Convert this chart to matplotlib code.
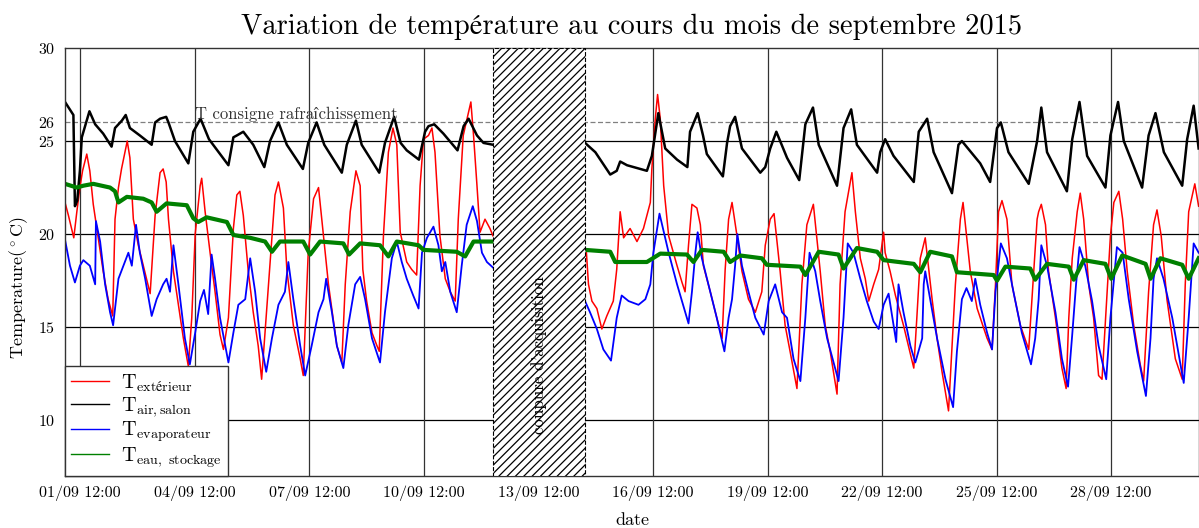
import numpy as np
import pandas as pd
import matplotlib
matplotlib.use("Agg")
import matplotlib.pyplot as plt
import matplotlib.dates as mdates

plt.rcParams['font.family'] = ['cmr10', 'STIXGeneral', 'DejaVu Serif']
plt.rcParams['mathtext.fontset'] = 'cm'
plt.rcParams['axes.formatter.use_mathtext'] = True
plt.rcParams['hatch.linewidth'] = 0.9

# ---- data: times are day-of-month (fractional), September 2015 ----
ext_t = [1.10, 1.19, 1.33, 1.41, 1.49, 1.56, 1.67, 1.75, 1.84, 1.97, 2.10, 2.23, 2.35, 2.41, 2.50, 2.58,
         2.73, 2.80, 2.89, 3.02, 3.15, 3.33, 3.46, 3.59, 3.67, 3.75, 3.81, 3.94, 4.07, 4.20, 4.33, 4.42,
         4.51, 4.64, 4.68, 4.77, 4.90, 5.03, 5.16, 5.25, 5.38, 5.51, 5.60, 5.68, 5.77, 5.90, 6.03, 6.16,
         6.25, 6.43, 6.52, 6.60, 6.69, 6.82, 6.91, 7.08, 7.26, 7.34, 7.47, 7.61, 7.74, 7.87, 8.00, 8.22,
         8.35, 8.44, 8.57, 8.72, 8.83, 8.90, 9.00, 9.14, 9.27, 9.33, 9.44, 9.57, 9.69, 9.79, 9.88, 10.05,
         10.18, 10.31, 10.40, 10.49, 10.62, 10.71, 10.79, 10.92, 11.06, 11.19, 11.32, 11.40, 11.53, 11.73,
         11.80, 11.89, 11.97, 12.10, 12.23, 12.31,
         14.75, 14.81, 14.90, 15.03, 15.16, 15.29, 15.46, 15.55, 15.64, 15.73, 15.90, 16.08, 16.25, 16.43,
         16.47, 16.56, 16.62, 16.69, 16.78, 16.91, 17.13, 17.26, 17.34, 17.43, 17.52, 17.65, 17.74, 17.82,
         18.00, 18.17, 18.31, 18.39, 18.48, 18.57, 18.70, 18.83, 19.00, 19.18, 19.35, 19.44, 19.57, 19.67,
         19.83, 19.96, 20.09, 20.27, 20.40, 20.53, 20.70, 20.88, 21.01, 21.14, 21.32, 21.40, 21.53, 21.71,
         21.80, 21.93, 22.06, 22.15, 22.28, 22.41, 22.54, 22.58, 22.71, 22.85, 23.06, 23.33, 23.41, 23.50,
         23.63, 23.81, 23.94, 24.07, 24.24, 24.42, 24.55, 24.62, 24.81, 24.99, 25.25, 25.38, 25.47, 25.55,
         25.64, 25.77, 25.90, 26.12, 26.34, 26.56, 26.60, 26.67, 26.78, 26.86, 27.04, 27.21, 27.32, 27.39,
         27.48, 27.61, 27.69, 27.78, 27.91, 28.04, 28.17, 28.26, 28.48, 28.57, 28.70, 28.80, 28.92, 29.09,
         29.26, 29.35, 29.48, 29.61, 29.70, 29.81, 29.96, 30.18, 30.36, 30.44, 30.53, 30.69, 30.79]
ext_v = [21.7, 21.0, 19.8, 21.2, 22.5, 23.4, 24.3, 23.4, 21.6, 19.8, 18.0, 16.5, 15.6, 20.8, 22.5, 23.5,
         25.0, 24.1, 20.8, 19.4, 18.3, 16.8, 21.0, 23.3, 23.5, 22.8, 20.8, 18.0, 16.2, 14.4, 12.9, 15.5,
         20.0, 22.6, 23.0, 21.2, 19.0, 16.9, 14.6, 13.8, 15.5, 20.3, 22.1, 22.3, 21.0, 18.0, 15.8, 14.0,
         12.2, 17.3, 19.9, 22.1, 22.8, 21.4, 18.1, 15.1, 13.3, 12.4, 19.0, 21.9, 22.5, 19.9, 17.3, 14.0,
         13.1, 17.3, 21.2, 23.4, 22.6, 18.1, 16.4, 14.7, 14.0, 13.7, 19.9, 24.4, 25.7, 24.8, 20.1, 18.5,
         18.1, 17.8, 22.6, 25.1, 25.3, 25.7, 24.4, 19.9, 17.6, 16.9, 16.4, 20.8, 25.3, 27.1,
         25.3, 22.6, 20.1, 20.8, 20.3, 19.9,
         19.2, 17.3, 16.4, 16.0, 14.9, 15.6, 16.4, 18.1, 21.2, 19.8, 20.3, 19.6, 20.3, 21.7,
         23.5, 26.2, 27.5, 26.2, 22.6, 19.9, 18.3, 17.4, 16.9, 19.4, 21.6, 21.4, 20.5, 18.3,
         16.9, 15.5, 14.4, 18.1, 20.8, 21.7, 19.9, 18.0, 16.5, 15.8, 16.9, 19.4, 20.8, 21.1,
         18.0, 15.1, 13.7, 11.7, 17.3, 20.5, 21.6, 18.0, 15.1, 13.7, 11.4, 17.3, 21.2, 23.3,
         21.2, 18.7, 17.6, 16.4, 17.3, 18.1, 20.1, 19.0, 18.0, 16.7, 15.1, 12.8, 15.5, 18.7,
         19.8, 16.5, 14.4, 12.6, 10.5, 17.3, 20.8, 21.7, 18.0, 16.0, 14.4, 13.8, 17.3, 21.2,
         21.8, 20.8, 17.3, 15.1, 13.8, 20.8, 21.2, 21.6, 20.5, 18.0, 15.5, 12.8, 11.7, 15.5,
         18.7, 21.2, 22.2, 20.8, 17.3, 15.5, 12.4, 12.2, 19.9, 21.7, 22.3, 20.8, 18.0, 15.1,
         13.0, 12.1, 16.9, 20.5, 21.3, 19.9, 16.5, 13.3, 12.2, 17.3, 21.2, 22.7, 21.5]

air_t = [1.10, 1.32, 1.36, 1.42, 1.49, 1.54, 1.74, 1.89, 2.10, 2.32, 2.41, 2.50, 2.59, 2.69, 2.80, 3.06,
         3.37, 3.46, 3.59, 3.75, 3.81, 3.98, 4.33, 4.46, 4.65, 4.87, 5.38, 5.51, 5.60, 5.77, 6.03, 6.32,
         6.47, 6.69, 6.91, 7.33, 7.47, 7.69, 7.89, 8.35, 8.48, 8.72, 8.87, 9.33, 9.48, 9.72, 9.89, 10.05,
         10.37, 10.53, 10.62, 10.77, 11.01, 11.38, 11.54, 11.67, 11.89, 12.06, 12.31,
         14.72, 14.99, 15.38, 15.55, 15.64, 15.82, 16.34, 16.47, 16.64, 16.82, 17.13, 17.40, 17.47, 17.67,
         17.81, 17.91, 18.33, 18.44, 18.52, 18.65, 18.83, 19.31, 19.44, 19.57, 19.73, 20.01, 20.33, 20.49,
         20.69, 20.84, 21.32, 21.49, 21.69, 21.84, 22.37, 22.45, 22.58, 22.80, 23.33, 23.46, 23.68, 23.85,
         24.33, 24.50, 24.59, 25.07, 25.33, 25.51, 25.61, 25.81, 26.34, 26.56, 26.67, 26.82, 27.34, 27.48,
         27.67, 27.87, 28.35, 28.48, 28.68, 28.83, 29.31, 29.48, 29.66, 29.88, 30.36, 30.49, 30.66, 30.79]
air_v = [27.1, 26.4, 21.5, 21.8, 23.4, 25.2, 26.6, 25.9, 25.4, 24.7, 25.7, 25.9, 26.1, 26.4, 25.7, 25.3,
         24.8, 26.0, 26.2, 26.3, 26.0, 25.0, 23.8, 25.5, 26.2, 25.1, 23.7, 25.2, 25.3, 25.5, 24.8, 23.6,
         25.0, 26.0, 24.8, 23.5, 24.9, 26.0, 24.8, 23.3, 24.8, 26.1, 24.8, 23.3, 24.9, 26.3, 24.9, 24.5,
         24.0, 25.5, 25.8, 25.9, 25.4, 24.5, 25.8, 26.2, 25.3, 24.9, 24.8,
         24.9, 24.4, 23.2, 23.4, 23.9, 23.7, 23.4, 24.2, 26.5, 24.6, 24.0, 23.6, 25.5, 26.5,
         25.3, 24.3, 23.1, 24.9, 25.8, 26.3, 24.6, 23.3, 23.6, 24.6, 25.5, 24.1, 22.9, 25.9,
         26.8, 24.8, 22.6, 25.7, 26.7, 24.8, 23.3, 24.4, 25.1, 24.2, 22.8, 25.5, 26.2, 24.4,
         22.2, 24.8, 25.0, 23.8, 22.8, 25.7, 26.0, 24.4, 22.7, 25.0, 26.8, 24.4, 22.3, 25.1,
         27.1, 24.2, 22.5, 25.3, 27.1, 25.0, 22.5, 25.3, 26.5, 24.4, 22.6, 25.1, 26.9, 24.6]

evap_t = [1.10, 1.23, 1.36, 1.49, 1.58, 1.75, 1.89, 1.91, 2.02, 2.15, 2.28, 2.36, 2.50, 2.63, 2.76, 2.85,
          2.96, 3.06, 3.20, 3.37, 3.50, 3.67, 3.76, 3.85, 3.94, 4.07, 4.24, 4.37, 4.51, 4.64, 4.74, 4.85,
          4.94, 5.03, 5.16, 5.38, 5.51, 5.64, 5.82, 5.95, 6.08, 6.21, 6.37, 6.52, 6.69, 6.86, 6.95, 7.08,
          7.26, 7.39, 7.56, 7.74, 7.87, 7.94, 8.09, 8.22, 8.39, 8.52, 8.70, 8.83, 8.96, 9.14, 9.35, 9.48,
          9.66, 9.79, 9.92, 10.05, 10.22, 10.36, 10.45, 10.58, 10.75, 10.88, 10.97, 11.06, 11.19, 11.36,
          11.49, 11.62, 11.78, 11.89, 12.02, 12.15, 12.31,
          14.72, 14.85, 15.03, 15.20, 15.40, 15.55, 15.68, 15.86, 16.12, 16.30, 16.43, 16.51, 16.67, 16.91,
          17.13, 17.43, 17.52, 17.61, 17.67, 17.78, 18.00, 18.17, 18.37, 18.48, 18.57, 18.65, 18.71, 18.83,
          19.00, 19.18, 19.40, 19.53, 19.70, 19.88, 20.01, 20.18, 20.36, 20.49, 20.60, 20.75, 20.88, 21.06,
          21.36, 21.49, 21.60, 21.75, 21.93, 22.10, 22.28, 22.41, 22.54, 22.67, 22.87, 22.93, 23.06, 23.24,
          23.37, 23.55, 23.59, 23.63, 23.76, 23.94, 24.16, 24.36, 24.46, 24.59, 24.71, 24.85, 24.94, 25.07,
          25.25, 25.38, 25.47, 25.61, 25.77, 25.94, 26.16, 26.40, 26.51, 26.60, 26.67, 26.82, 27.04, 27.21,
          27.37, 27.48, 27.58, 27.67, 27.82, 28.00, 28.17, 28.37, 28.48, 28.65, 28.80, 28.96, 29.18, 29.41,
          29.53, 29.61, 29.70, 29.87, 30.10, 30.40, 30.53, 30.66, 30.79]
evap_v = [19.7, 18.3, 17.4, 18.3, 18.6, 18.3, 17.3, 20.7, 19.6, 17.3, 15.8, 15.1, 17.6, 18.3, 19.0, 18.3,
          20.5, 19.0, 17.6, 15.6, 16.5, 17.3, 17.6, 16.9, 19.4, 17.3, 14.4, 13.0, 14.7, 16.4, 17.0, 15.7,
          18.9, 17.6, 15.5, 13.1, 14.7, 16.2, 16.5, 18.7, 16.9, 14.4, 12.6, 14.4, 16.2, 16.9, 18.5, 16.5,
          14.0, 12.4, 14.0, 15.8, 16.5, 17.6, 15.8, 14.0, 12.8, 15.1, 17.3, 17.7, 16.5, 14.4, 13.1, 15.8,
          18.7, 19.6, 18.5, 17.6, 16.7, 16.0, 19.0, 19.8, 20.4, 19.4, 18.0, 18.5, 16.9, 15.8,
          18.3, 20.5, 21.5, 20.7, 19.0, 18.5, 18.2,
          16.4, 15.8, 14.9, 13.8, 13.2, 15.5, 16.7, 16.4, 16.2, 16.5, 17.3, 19.0, 21.1, 19.0,
          17.3, 15.2, 16.9, 19.0, 20.1, 18.7, 16.9, 15.5, 13.7, 15.5, 16.5, 18.3, 20.0, 18.3,
          16.9, 15.5, 14.6, 16.4, 17.3, 15.8, 15.5, 13.3, 12.1, 15.5, 19.0, 18.0, 16.4, 14.4,
          12.1, 15.5, 19.5, 19.0, 17.6, 16.4, 15.3, 14.9, 16.2, 16.8, 14.2, 17.3, 15.8, 14.0,
          13.1, 14.4, 17.3, 18.0, 16.5, 14.4, 12.2, 10.7, 13.7, 16.5, 17.1, 16.4, 17.6, 16.2,
          14.7, 13.8, 16.9, 19.5, 18.7, 16.9, 14.7, 13.0, 14.4, 16.5, 19.4, 18.3, 15.8, 13.3,
          11.8, 14.6, 17.3, 19.3, 18.3, 16.4, 14.0, 12.2, 15.5, 19.3, 19.0, 16.5, 13.7, 11.3,
          14.4, 17.6, 18.7, 17.6, 15.5, 12.0, 15.5, 19.5, 19.0]

eau_t = [1.10, 1.41, 1.58, 1.84, 2.28, 2.41, 2.50, 2.72, 3.15, 3.37, 3.50, 3.76, 4.29, 4.46, 4.59, 4.81,
         5.34, 5.51, 5.95, 6.34, 6.52, 6.73, 7.34, 7.52, 7.78, 8.39, 8.54, 8.83, 9.35, 9.57, 9.79, 10.36,
         10.49, 11.36, 11.58, 11.80, 12.31,
         14.72, 15.38, 15.51, 16.34, 16.69, 17.39, 17.56, 17.78, 18.35, 18.52, 18.78, 19.35, 19.48, 20.36,
         20.49, 20.84, 21.36, 21.49, 21.84, 22.37, 22.54, 23.33, 23.50, 23.76, 24.33, 24.46, 25.42, 25.51,
         25.73, 26.38, 26.51, 26.82, 27.39, 27.52, 27.78, 28.35, 28.50, 28.79, 29.40, 29.53, 29.79, 30.36,
         30.53, 30.79]
eau_v = [22.7, 22.5, 22.6, 22.7, 22.5, 22.3, 21.7, 22.0, 21.9, 21.7, 21.2, 21.65, 21.55, 20.85, 20.65, 20.9,
         20.65, 19.95, 19.8, 19.6, 19.05, 19.6, 19.6, 18.9, 19.6, 19.5, 18.9, 19.5, 19.4, 18.8, 19.6, 19.4,
         19.15, 19.05, 18.8, 19.6, 19.6,
         19.15, 19.05, 18.5, 18.5, 18.95, 18.9, 18.5, 19.15, 19.05, 18.5, 18.85, 18.7, 18.35, 18.25,
         17.8, 19.05, 18.9, 18.15, 19.25, 19.05, 18.6, 18.4, 17.95, 19.05, 18.8, 17.95, 17.8, 17.5,
         18.25, 18.15, 17.55, 18.4, 18.25, 17.55, 18.6, 18.4, 17.6, 18.85, 18.4, 17.6, 18.7, 18.35,
         17.6, 18.7]

series_labels = [r'T$_{\rm extérieur}$', r'T$_{\rm air,salon}$', r'T$_{\rm evaporateur}$', r'T$_{\rm eau,\ stockage}$']
series_colors = ['#ff0000', '#000000', '#0000ff', '#008000']
series_widths = [1.1, 1.8, 1.3, 3.0]

consigne = 26
gap_start, gap_end = 12.31, 14.72
x_start, x_end = 1.10, 30.80
tick_days = [1.5, 4.5, 7.5, 10.5, 13.5, 16.5, 19.5, 22.5, 25.5, 28.5]
ytick_vals = [10, 15, 20, 25, 26, 30]
hgrid_vals = [10, 15, 20, 25]

base = pd.Timestamp('2015-09-01')


def to_dt(days):
    return base + pd.to_timedelta(np.asarray(days, dtype=float) - 1.0, unit='D')


def with_breaks(t, v):
    t = np.asarray(t, dtype=float)
    v = np.asarray(v, dtype=float)
    idx = np.where(np.diff(t) > 1.0)[0]
    t = np.insert(t, idx + 1, t[idx] + 0.5)
    v = np.insert(v, idx + 1, np.nan)
    return to_dt(t), v


fig = plt.figure(figsize=(11.99, 5.28), dpi=100)
ax = fig.add_axes([65 / 1199, 52 / 528, 1134 / 1199, 428 / 528])

data = [(ext_t, ext_v), (air_t, air_v), (evap_t, evap_v), (eau_t, eau_v)]
handles = []
for (t, v), lab, c, lw in zip(data, series_labels, series_colors, series_widths):
    tt, vv = with_breaks(t, v)
    ax.plot(tt, vv, color=c, lw=lw, zorder=2)
    h, = ax.plot([], [], color=c, lw=1.0, label=lab)
    handles.append(h)

for y in hgrid_vals:
    ax.axhline(y, color='black', lw=0.9, zorder=1)
for d in tick_days:
    ax.axvline(to_dt(d), color='#333333', lw=0.9, zorder=1)
ax.axhline(consigne, color='#808080', lw=0.9, ls=(0, (4, 2)), zorder=1)
ax.text(to_dt(4.5), consigne, 'T consigne rafraîchissement', fontsize=12,
        color='#333333', ha='left', va='bottom')

ax.axvspan(to_dt(gap_start), to_dt(gap_end), facecolor='white', edgecolor='black',
           hatch='////', linestyle='--', linewidth=0.8, zorder=3)
ax.text(to_dt((gap_start + gap_end) / 2), 13.5, "coupure d'acquisition", rotation=90,
        fontsize=12.2, ha='center', va='center', zorder=4)

ax.set_xlim(to_dt(x_start), to_dt(x_end))
ax.set_ylim(7, 30)
ax.set_yticks(ytick_vals)
ax.set_xticks(to_dt(tick_days))
ax.xaxis.set_major_formatter(mdates.DateFormatter('%d/%m %H:%M'))
ax.tick_params(axis='both', length=0, labelsize=11.5, pad=7)

ax.set_title('Variation de température au cours du mois de septembre 2015', fontsize=20.5, pad=10)
ax.set_xlabel('date', fontsize=13)
ax.set_ylabel(r'Temperature($^\circ$C)', fontsize=13)
ax.yaxis.set_label_coords(-0.031, 0.44)
ax.xaxis.set_label_coords(0.5, -0.085)

for s in ax.spines.values():
    s.set_color('#333333')
    s.set_linewidth(1.0)

leg = ax.legend(handles=handles, loc='lower left', borderaxespad=0, fancybox=False,
                framealpha=1, edgecolor='#333333', fontsize=14.5, handlelength=1.9,
                handletextpad=0.6, labelspacing=0.05, borderpad=0.3)
leg.get_frame().set_linewidth(1.0)
leg.set_zorder(5)

fig.savefig('out.png', dpi=100)
